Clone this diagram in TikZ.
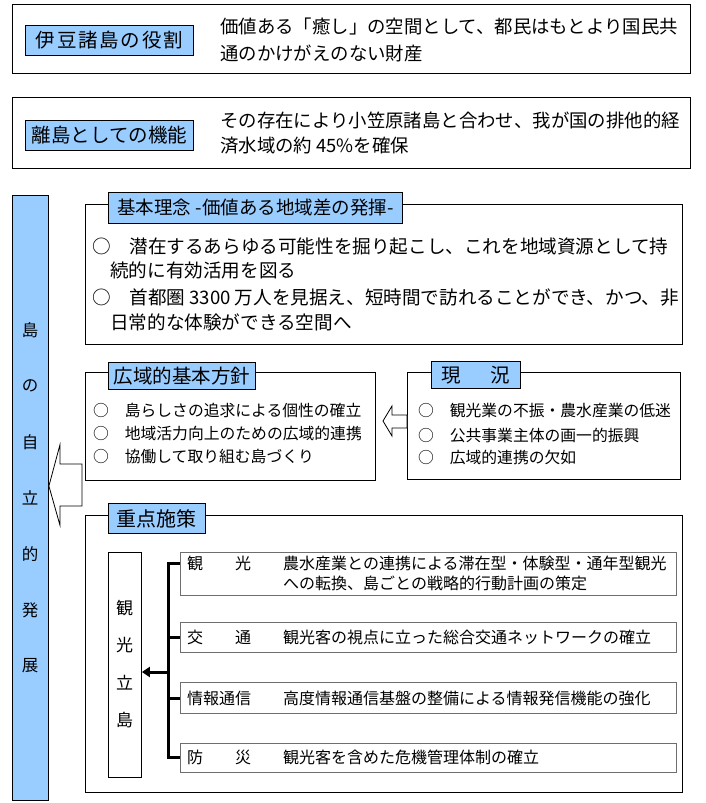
\documentclass[tikz,border=0pt]{standalone}
\usepackage{fontspec}
\newfontfamily\jp{Noto Sans CJK JP}
\usepackage{tikz}
\usetikzlibrary{calc, arrows.meta, positioning}
\tikzset{>=latex}
\definecolor{myblue}{RGB}{153, 204, 255}
\definecolor{mygray1}{RGB}{110, 110, 110}
\newcommand*\fsz[1]{\fontsize{#1}{#1}\selectfont}

\tikzset{
  frame/.style = {draw, line width=0.9pt, anchor=north west, inner sep=0pt},
  tag/.style = {draw, line width=0.9pt, fill=myblue, anchor=north west, inner sep=0pt, font=\jp\fsz{19.5}},
  body/.style = {anchor=west, inner sep=0pt, font=\jp\fsz{18.4}},
  small/.style = {anchor=west, inner sep=0pt, font=\jp\fsz{15.8}},
  itembox/.style = {frame, draw=mygray1, line width=1.3pt},
  itemtxt/.style = {anchor=west, inner sep=0pt, font=\jp\fsz{16}},
  colchar/.style = {inner sep=0pt, font=\jp\fsz{16.5}},
  bracket/.style = {line width=3pt},
  hollow/.style = {draw, line width=0.8pt, fill=white, line join=miter}
}

\begin{document}
\begin{tikzpicture}[x=1pt, y=-1pt]
\useasboundingbox (0,0) rectangle (705,803);

% top boxes
\node[frame, minimum width=678pt, minimum height=69pt] (role) at (12,4) {};
\node[tag, minimum width=168pt, minimum height=30pt] (roletag) at (25,25) {\addfontfeature{LetterSpace=9}伊豆諸島の役割};
\node[body] (role1) at (220,27) {価値ある「癒し」の空間として、都民はもとより国民共};
\node[body] (role2) at (220,53) {通のかけがえのない財産};

\node[frame, minimum width=678pt, minimum height=71pt] (func) at (12,97) {};
\node[tag, minimum width=168pt, minimum height=30pt] (functag) at (25,120) {離島としての機能};
\node[body] (func1) at (220,120) {その存在により小笠原諸島と合わせ、我が国の排他的経};
\node[body] (func2) at (220,146) {済水域の約 45\%を確保};

% left bar
\node[frame, fill=myblue, minimum width=36pt, minimum height=605pt] (bar) at (12,195) {};
\foreach \c [count=\i from 0] in {島,の,自,立,的,発,展}
  \node[colchar] (bc\i) at (30,330+56*\i) {\c};

% basic idea
\node[frame, minimum width=597pt, minimum height=140pt] (kihon) at (85,204) {};
\node[tag, minimum width=294pt, minimum height=31pt, font=\jp\fsz{18.5}] (kihontag) at (108,192) {基本理念 -価値ある地域差の発揮-};
\node[body, font=\jp\fsz{18.6}] (kihon1) at (92,246) {○　潜在するあらゆる可能性を掘り起こし、これを地域資源として持};
\node[body, font=\jp\fsz{18.6}] (kihon2) at (110,270) {続的に有効活用を図る};
\node[body, font=\jp\fsz{18.6}] (kihon3) at (92,297) {○　首都圏 3300 万人を見据え、短時間で訪れることができ、かつ、非};
\node[body, font=\jp\fsz{18.6}] (kihon4) at (110,322) {日常的な体験ができる空間へ};

% policy and present state
\node[frame, minimum width=290pt, minimum height=108pt] (koiki) at (85,372) {};
\node[tag, minimum width=147pt, minimum height=27pt] (koikitag) at (108,362) {広域的基本方針};
\node[small] (koiki1) at (93,410) {○　島らしさの追求による個性の確立};
\node[small] (koiki2) at (93,433) {○　地域活力向上のための広域的連携};
\node[small] (koiki3) at (93,456) {○　協働して取り組む島づくり};

\node[frame, minimum width=273pt, minimum height=107pt] (genkyo) at (407,372) {};
\node[tag, minimum width=89pt, minimum height=27pt] (genkyotag) at (431,361) {現\hspace{29pt}況};
\node[small] (genkyo1) at (418,410) {○　観光業の不振・農水産業の低迷};
\node[small] (genkyo2) at (418,435) {○　公共事業主体の画一的振興};
\node[small] (genkyo3) at (418,457) {○　広域的連携の欠如};

% hollow arrows
\coordinate (smtip) at (genkyo.west |- 0,421);
\draw[hollow] ($(smtip)+(-24,0)$) -- ++(9,-15) -- ++(0,9) -- ++(15,0) -- ++(0,13) -- ++(-15,0) -- ++(0,8) -- cycle;
\coordinate (bigtip) at (bar.east |- 0,486);
\draw[hollow] (bigtip) -- ++(11,-41) -- ++(0,19) -- ++(22,0) -- ++(0,42) -- ++(-22,0) -- ++(0,19) -- cycle;

% priority measures
\node[frame, minimum width=597pt, minimum height=277pt] (juten) at (85,515) {};
\node[tag, minimum width=97pt, minimum height=30pt, font=\jp\fsz{20}] (jutentag) at (108,503) {重点施策};

\node[frame, minimum width=33pt, minimum height=225pt] (ritto) at (108,552) {};
\foreach \c [count=\i from 0] in {観,光,立,島}
  \node[colchar, font=\jp\fsz{17}] (rc\i) at (124.5,608+37.3*\i) {\c};

\node[itembox, minimum width=496pt, minimum height=43pt] (boxA) at (180,552) {};
\node[itembox, minimum width=496pt, minimum height=30pt] (boxB) at (180,622) {};
\node[itembox, minimum width=496pt, minimum height=31pt] (boxC) at (180,682) {};
\node[itembox, minimum width=496pt, minimum height=29pt] (boxD) at (180,743) {};

\node[itemtxt] (lkanko) at (187,563) {観　　光};
\node[itemtxt] (tkanko1) at (283,563) {農水産業との連携による滞在型・体験型・通年型観光};
\node[itemtxt] (tkanko2) at (283,583) {への転換、島ごとの戦略的行動計画の策定};
\node[itemtxt] (lkotsu) at (187,637) {交　　通};
\node[itemtxt] (tkotsu) at (283,637) {観光客の視点に立った総合交通ネットワークの確立};
\node[itemtxt] (ljoho) at (187,698) {情報通信};
\node[itemtxt] (tjoho) at (283,698) {高度情報通信基盤の整備による情報発信機能の強化};
\node[itemtxt] (lbosai) at (187,757) {防　　災};
\node[itemtxt] (tbosai) at (283,757) {観光客を含めた危機管理体制の確立};

% bracket to the column
\coordinate (brk) at (168,672);
\draw[bracket] (lkanko -| boxA.west) -- (lkanko -| brk) -- (lbosai -| brk) -- (lbosai -| boxD.west);
\foreach \n/\b in {lkotsu/boxB, ljoho/boxC}
  \draw[bracket] (\n -| brk) -- (\n -| \b.west);
\draw[bracket, -{Triangle[length=8pt, width=10pt]}] (brk) -- (ritto.east |- brk);
\end{tikzpicture}
\end{document}
